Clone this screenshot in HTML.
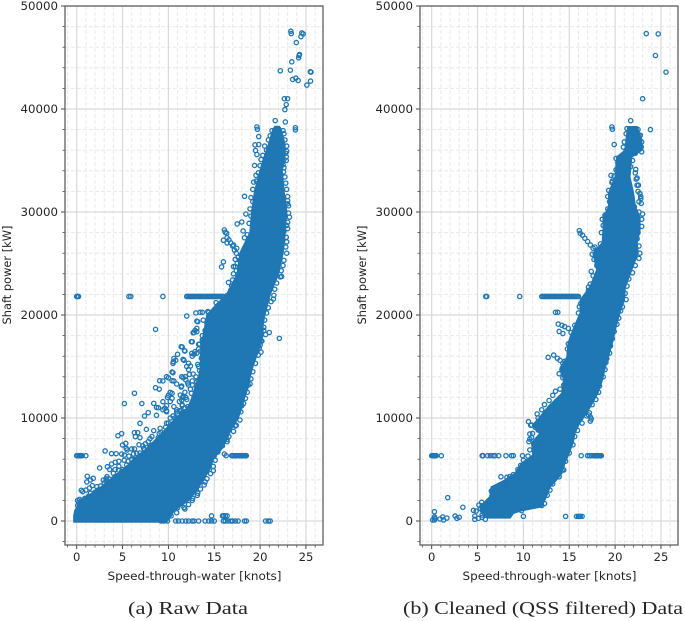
<!DOCTYPE html>
<html><head><meta charset="utf-8">
<style>
html,body{margin:0;padding:0;background:#fff;width:685px;height:621px;overflow:hidden}
svg{display:block}
text{font-family:"DejaVu Sans","Liberation Sans",sans-serif;fill:#262626}
</style></head>
<body>
<svg id="chart" width="685" height="621" viewBox="0 0 685 621" xmlns="http://www.w3.org/2000/svg"></svg>
<script>
// ---------- Chart data (knots, kW) ----------
const xMajorTicks = [0,5,10,15,20,25];
const yMajorTicks = [0,10000,20000,30000,40000,50000];
const xLabelText = "Speed-through-water [knots]";
const yLabelText = "Shaft power [kW]";
const rawCaption = "(a) Raw Data";
const cleanCaption = "(b) Cleaned (QSS filtered) Data";

// Dense cloud outline: at each power level, left and right speed
const rawCloudPower = [-100,500,1000,2000,3000,4000,5000,6000,7000,8000,9000,10000,11000,12000,13000,14000,15000,16000,17000,18000,19000,20000,21000,22000,24000,26000,28000,30000,32000,34000,35500,36500,38000,38300];
const rawCloudLeft = [-0.3,-0.3,-0.2,0.4,2.2,3.7,5.1,6.2,7.6,8.7,9.8,10.8,12.1,12.6,12.9,13.3,13.5,13.5,13.6,13.8,14,14.2,15.2,16.4,17.5,17.8,18.9,19.1,19.4,20,20.5,20.9,21.4,21.6];
const rawCloudRight = [9.8,10.3,10.6,12.2,13.1,13.8,14.5,14.9,15.8,16.4,16.9,17.6,18,18.3,18.7,18.9,19.2,19.6,20,20.3,20.3,20.5,20.8,21.1,22,22.5,22.7,22.9,22.6,22.4,22.7,22.7,22.3,22.1];

const cleanCloudPower = [300,750,1000,1390,2360,3300,3980,4630,5600,6400,7550,8500,9300,10100,11100,12400,13700,14850,15900,17300,18540,20200,21460,22700,24370,26000,27000,28250,29500,30500,31840,33400,35340,36000,37000,38270];
const cleanCloudLeft = [6.15,5.45,5.3,5.3,6.35,6.5,8,9.1,9.8,11.05,10.9,11.8,11,11.8,12.7,14.2,14.4,14,14.75,14.9,15.4,16.2,16.2,17.25,18,17.6,18.6,18.7,18.7,19.3,19.3,20,20.2,21.1,21.2,21.4];
const cleanCloudRight = [8.55,8.9,9.8,12,12.5,12.9,13.6,14.2,14.5,14.9,15.4,15.6,16,16.6,17.3,18.1,18.6,18.9,19.25,19.7,20,20.5,21,21.1,21.8,22.5,22.4,22.7,22.7,22.2,22,21.6,21.8,22.9,22.9,22.4];

// Horizontal sensor-stuck rows
const rowHighPower = 21800;
const rawRowHigh = [0,0.1,0.2,5.7,5.9,9.4,12,12.15,12.3,12.45,12.6,12.75,12.9,13.05,13.2,13.35,13.5,13.65,13.8,13.95,14.1,14.25,14.4,14.55,14.7,14.85,15,15.15,15.3,15.45,15.6,15.75,15.9,16];
const cleanRowHigh = [5.9,6,9.6,12,12.15,12.3,12.45,12.6,12.75,12.9,13.05,13.2,13.35,13.5,13.65,13.8,13.95,14.1,14.25,14.4,14.55,14.7,14.85,15,15.15,15.3,15.45,15.6,15.75,15.9,16];
const rowMidPower = 6340;
const rawRowMid = [0,0.15,0.3,0.4,0.5,0.6,1,15,16.3,16.9,17,17.15,17.3,17.45,17.6,17.75,17.9,18,18.1,18.2,18.3,18.4,18.5];
const cleanRowMid = [0,0.1,0.2,0.3,0.4,0.5,1.05,5.5,5.6,6.1,6.4,6.7,6.9,7.3,8.1,8.7,8.9,9.9,16.3,17,17.2,17.4,17.6,17.75,17.9,18,18.1,18.2,18.3,18.4,18.5];
const rawRowZero = [9.2,9.5,9.9,10.8,11.1,11.5,11.9,12.2,12.6,12.8,13.3,14,14.4,14.7,15,16,16.2,16.5,16.8,17,17.3,17.6,18.3,18.5,20.6,20.9,21.1];
const rawRowLow = [14.7,15.9,16,16.2,16.4];
const cleanRowLow = [10,14.6,15.8,16,16.1,16.2,16.4];

// Individually read outliers [knots, kW]
const rawOutliers = [
[23.35,47550],[23.4,47320],[24.55,47390],[24.7,47290],[24.45,47030],[23.95,46450],[24.3,45290],[24.25,45190],[24.2,44970],[23.45,44580],[23.3,43770],[22.2,43710],[25.55,43580],[25.48,43620],[23.55,42870],[23.9,43000],[24.15,42770],[25.5,42710],[25.1,42320],
[22.65,41000],[23,41000],[22.85,40420],[22.7,39940],[21.65,38870],[22.75,38740],[23.85,38190],[23.85,37970],[19.65,38260],[19.7,38030],[19.85,37320],[19.45,36520],[19.85,36550],[19.5,35970],[19.65,35580],[19.4,34520],[19.55,33550],[18.3,31520],[18.45,29800],[18,29030],[17.5,28840],[18.15,28160],
[16.1,28260],[16.2,28030],[16.35,27940],[16,27260],[16.4,27000],[16.4,27500],[16.6,27300],[16.8,27000],[17,26700],[17.1,26800],[17.2,26300],[17.45,26480],[17.4,26000],[17.6,25600],[17.8,25300],[18,25000],[16,25160],[15.8,24670],[17.1,24700],[17.1,24000],[16.55,23160],[16.7,22170],[15.2,21200],[21.45,21550],[22.35,23740],[23,28390],[22.85,27550],[22.5,27680],[23,30800],[23,31100],[22.55,33900],[22.85,35350],[22.85,35000],[22.8,35700],
[8.6,18600],[22.1,17730],[21,18300],[20.4,18500],[20.1,16400],[20.2,17470],[20,17090],[6.3,12400],[5.2,11400],[7.1,11400],[8.6,12940],[9.05,13620],[9.8,14010],[10.4,14460],[10.4,13620],[10.2,12490],[8.4,11420],[8.7,11030],[9.4,11580],[9.6,10940],[9.8,10610],[7.4,10190],[7.8,10520],[8.7,10260],[6.9,9480],[6.3,8580],[6.65,8580],[4.5,8280],[4.9,8480],[6.4,8190],[6.9,8090],[7.6,8900],[8.4,8770],[9.1,9000],[9.45,8350],[5,7380],[5.35,7540],[5.4,7050],[3.1,6800],[3.8,6540],[4.3,6540],[2.5,5150],[4.9,6500],[3.35,5270],[3.8,5530],[1.15,4340],[1.8,4140],[1.5,3980],[1.1,3790],[1.7,3430],[0.5,2980],[0.65,2850],[2.2,3330],[2.9,3980],[3.3,4300],[4,4630],[4.55,4950],[5.45,5440],[6,5920],[6.55,6570],[7.3,7050],[8,7220],[8.7,7540],[9.3,8030],
[10.55,15470],[11.6,15690],[12.2,15310],[12.4,15050],[12.5,17410],[13.4,17180],[13.2,19350],[13.8,17640],[11.4,16920],[11.75,16540],[11,16180],[10.6,15790],[12.7,14270],[12.3,14230],[11.45,14010],[11.85,14010],[11.45,13100],[10.9,13300],[12.55,16280],[12.9,16440],[13.1,18380],[12.7,18280],[13.45,20260],[13.7,20260],[14.4,20260],[14.9,20100],[11.3,12230],[11.45,11750],[10.6,11100],[11.6,12100],[10.9,10800],[10.2,11600],[9.9,12000],[10,12200],
[14.9,4890],[14,3790],[13.1,3820],[12.9,3010],[13.15,2490],[12.65,2200],[11.8,1165],[11,1290],[10.2,1070],[10,420],[16.1,6500],[15.35,7600],[15.9,8030],[16.4,7700],[17.3,9220],[18,11200],[18.7,13200],[18.35,12880],[17.1,9640],
[1,3000],[1.4,3200],[2,2800],[2.6,3400],[3,3700],[3.5,4100],[4.2,4300],[4.6,5300],[5,5000],[5.6,5800],[6.2,6500],[6.9,6600],[7.5,7500],[8,8000],[9,8500],[10,9500],[10.5,10200],[11.2,10700],[11.5,11200],[3.6,5000],[4.2,5700],[5.2,6400],[6,7000],[6.8,7400]
];
// Points forming the rough rim of the raw cloud [knots, kW]
const rawRimPoints = [
[17.3,25400],[17.5,25000],[17.3,24700],[17.4,24300],[17,23400],[17.2,23000],[16.9,22800],[16.8,22400],[17,22000],[16.4,21900],[18.6,27800],[18.3,27500],[18.8,28900],[19,29600],[18.9,30300],[19.2,31000],[19,31400],[19.2,32200],[19.3,32900],[19.6,33000],[19.8,33800],[20,34500],[20.1,35100],[20.3,35500],[20.7,36000],[20.5,36400],[20.9,37000],[21.1,37400],[21.3,37900],
[22.9,36400],[22.7,37000],[22.6,37600],[22.5,37900],[22.9,35900],[22.6,35100],[22.5,34600],[22.6,34300],[22.7,33400],[22.8,32800],[22.9,32200],[23,31500],[23.1,30600],[23.1,29900],[23.2,29500],[23,29000],[22.9,28700],[22.6,28100],[22.9,27100],[22.8,26600],[22.9,26000],[22.6,25300],[22.5,24800],[22.3,24300],[22.2,23700],[21.8,23100],[21.6,22500],[21.5,21900],[21.2,21300],[20.9,20700],[20.7,20200],
[20.5,19500],[20.4,18800],[20.6,18100],[20.1,17500],[19.9,16800],[19.8,16100],[19.5,15300],[19.2,14500],[19,13800],[18.9,13300],[18.6,12500],[18.4,11900],[18.2,11400],[17.9,10600],[17.8,9800],[17.4,9300],[17.1,8700],[16.6,8200],[16.4,7900],[15.9,7300],[15.4,6700],[15.1,5900],[14.9,5300],[14.6,4600],[14.2,4100],[13.9,3500],[13.5,3100],[13.2,2700],[12.6,2000],[12.2,1600],[11.7,1300],[10.9,800],[10.3,500],
[12,19900],[13,20200],[13.8,19500],[14.2,19200],[14,18500],[13.7,18000],[14.2,17500],[13.9,16800],[13.5,16500],[13.6,15800],[13.2,15200],[13.4,14600],[13,14000],[12.6,13600],[12.2,13200],[12.4,12800],[11.8,12500],[11.9,12000],[11.2,11600],
[0.1,1500],[0.1,2000],[0.3,2100],[0.2,1800],[0.6,2000],[0.9,2200],[1.3,2400],[1.5,2700],[1.9,2500],[2.3,3000],[2.6,3000],[3.1,3400],[3.3,3600],[3.6,3800],[3.2,4100],[4,4100],[4.4,4400],[4.9,4800],[5.3,5000],[5.6,5200],[6,5400],[6.4,6000],[6.8,6200],[7.1,6400],[7.4,6900],[7.9,7000],[8.3,7400],[8.7,7100],[9,7800],[9.5,8500],[10,8900],[10.4,9400],[10.7,10000],[11,10400],[11.4,10700],[11.8,11000],
[4.2,5000],[4.6,5800],[5.2,5900],[5.7,6300],[6,6000],[6.3,7000],[7.2,7300],[7.8,7700],[8.2,8200],[8.9,8100],[9.2,8600],[9.7,9100],[9.8,9500],[10.2,10000],[5.5,6900],
[14.3,20330],[13.1,19400],[12.9,18500],[12.8,18300],[13.1,18700],[12.6,17400],[13.3,17150],[13.7,17600],[11.5,16900],[11.8,16500],[10.8,15600],[10.5,15300],[11.7,15600],[12.6,16000],[12.8,16200],[13.1,16300],[13.3,16700],[12,15000],[12.2,14700],[10.5,14400],[10,13900],[9.4,13600],[10.6,13600],[9,12800],[11.6,13900],[11.9,13700],[12.1,13400],[12.6,13200],[13.1,13500],[13.3,15000],[10.4,12400],[10.4,11900],[11.4,13000],[11.6,12000],[12,11800],[12.5,12400],[12.8,12000],[11.5,11300],[12.1,11100],[9.8,11200],[8.9,11000],[9.4,10800],[9.8,10700],[10.9,10600],[11.5,10500],[12.5,10400]
];

const cleanOutliers = [
[23.4,47320],[24.7,47290],[24.4,45190],[25.55,43580],[23,41000],[21.7,38870],[23.85,38000],[19.65,38260],[19.7,38030],[19.9,36550],[19.55,33550],[19.65,32870],[23,29800],
[16.1,28190],[16.2,27930],[16.45,27740],[16.7,27450],[17,27130],[17.3,26800],[17.6,26480],[18,26260],[17.4,24230],[17.1,22710],[16.25,21100],
[22.7,31800],[22.85,30840],[22.4,33300],[22.55,32600],[22.25,34130],[22.75,37450],[22.85,36320],[22.9,35840],[22.8,31300],
[1.75,2270],[3.4,1330],[0.3,900],[4.55,1035],[4.85,970],[5.45,1810],[5.15,1550],[0.3,400],[0.35,260],[0.1,100],[0.3,100],[0.9,190],[1.2,390],[1.3,100],[1.65,290],[2.55,490],[2.75,260],[3,360],[4.7,480],[4.7,160],[5.1,260],[5.5,580],[5.5,350],[5.85,160],
[14.2,5270],[14.4,4950],[7.55,4300],[8.2,4240],[8,3750],[7.35,3330],[6.7,3170],[6.65,2520],
[12.7,15890],[13.3,16110],[13.7,15800],[14,15600],[14.3,15300],[14.6,15100],[14.9,14900],[13.5,20260],[13.75,20260],[19.1,15760],
[16.7,10940],[17.3,10100],[17.2,10500],[17.4,9900],[17.3,9700],[16.95,11100],[17.1,10300],
[10.55,9650],[10.9,9320],[11.3,9090],[11.6,8830],[12.2,8670],[10.7,8450],[10.7,7950],[10.6,7700],[11.2,7600],[11.8,7400],
[13.8,19120],[14.2,19000],[14.5,18870],[14.9,18700],[13.9,18400],[14.3,18200]
];
// Points forming the rough rim of the cleaned cloud [knots, kW]
const cleanRimPoints = [
[21.3,38100],[21.2,37600],[21,36800],[20.9,36300],[21.2,36000],[20.1,35200],[20.3,34800],[20.1,34100],[19.9,33500],[19.7,33000],[20,32400],[19.3,32100],[19.2,31500],[19.4,31000],[19.2,30300],[18.9,29700],[18.6,29300],[18.7,28700],[18.5,28000],[18.9,27500],[18.4,26900],[17.8,26600],[17.5,25900],[17.7,25400],[18,24800],[17.6,23800],[17.3,23000],[17.1,22400],[16.9,21800],[16.5,21300],[16.1,20800],[16,20200],[16.3,19700],[15.6,19000],
[22.5,38000],[22.7,37400],[22.9,36800],[22.8,36200],[22.2,35700],[21.9,35000],[21.7,34400],[22.2,33800],[22.3,33200],[22.4,32600],[22.5,32000],[22.8,31500],[22.6,31000],[22.1,30500],[22.6,30000],[22.9,29300],[22.9,28600],[22.5,28000],[22.4,27400],[22.6,26700],[22.7,26000],[22.6,25500],[22.2,24800],[21.9,24100],[21.5,23500],[21.3,22800],[21.1,22100],[21.2,21500],[20.8,20800],[20.6,20400],[20.4,19700],[20.2,19100],[19.9,18400],[19.7,17700],[19.5,17000],[19.4,16300],[19,15400],[18.9,14700],[18.7,14000],[18.3,13100],[18.2,12500],[17.9,11800],[17.5,11300],[16.9,10200],[16.4,9500],[15.9,8800],[15.6,8200],[15.4,7400],[15,6600],[14.6,5800],[14.3,5000],[13.9,4300],[13.2,3600],[12.9,3000],[12.6,2500],[12.3,1700],[12,1500],[11.3,1550],[9.8,1000],
[15.2,18300],[15.3,17700],[14.9,17200],[14.8,16700],[15,16300],[14.5,15500],[14.2,14700],[13.9,14300],[14.3,13900],[14.4,13200],[14,12800],[13.2,12200],[13.5,12600],[12.8,11700],[12.3,11300],[12,10800],[11.5,10400],[11.6,10000],[10.8,9300],[11,8500],[10.9,8100],[11.2,7300],[10.7,6900],[10.5,6300],[10,5900],[9.7,5400],[9.4,5000],[8.9,4500],[8.5,4300],[8.2,3900],[7.9,3500],[7.3,3000],[6.8,3000],[6.5,2900],[6.6,2200],[6.3,2000],[6,1700],[5.5,1500],[5.3,1200],[5.7,900],[6,600]
];

// ---------- Rendering ----------
const NS = "http://www.w3.org/2000/svg";
const svg = document.getElementById("chart");
const blue = "#1f77b4";
const xPerKnot = 9.17, yZeroPx = 521, yPerKw = 0.0103;
const spanW = 258, topPx = 6, bottomPx = 545, leftOffset = 11.7;

function make(parent, tag, attrs) {
  const el = document.createElementNS(NS, tag);
  for (const k in attrs) el.setAttribute(k, attrs[k]);
  parent.appendChild(el);
  return el;
}

function drawPanel(panelName, originX, captionText, captionX, captionW, cloudP, cloudL, cloudR, rows, outliers, rim) {
  const xScale = v => originX + leftOffset + v * xPerKnot;
  const yScale = v => yZeroPx - v * yPerKw;
  const left = originX, right = originX + spanW;

  const g = make(svg, "g", {});
  
  

  // minor grid
  for (let v = -1; v <= 26; v++) {
    if (v % 5 === 0) continue;
    const ln = make(g, "line", {x1:xScale(v),x2:xScale(v),y1:topPx,y2:bottomPx,stroke:"#ececec","stroke-width":1.1,"stroke-dasharray":"4 2"});
    
    
    const tk = make(g, "line", {x1:xScale(v),x2:xScale(v),y1:bottomPx,y2:bottomPx+2.5,stroke:"#333","stroke-width":0.7});
    
    
  }
  for (let v = -2000; v <= 48000; v += 2000) {
    if (v % 10000 === 0) continue;
    const ln = make(g, "line", {x1:left,x2:right,y1:yScale(v),y2:yScale(v),stroke:"#ececec","stroke-width":1.1,"stroke-dasharray":"4 2"});
    
    
    const tk = make(g, "line", {x1:left-2.5,x2:left,y1:yScale(v),y2:yScale(v),stroke:"#333","stroke-width":0.7});
    
    
  }
  // major grid, ticks and labels
  xMajorTicks.forEach(v => {
    const ln = make(g, "line", {x1:xScale(v),x2:xScale(v),y1:topPx,y2:bottomPx,stroke:"#d9d9d9","stroke-width":1.2});
    
    
    const tk = make(g, "line", {x1:xScale(v),x2:xScale(v),y1:bottomPx,y2:bottomPx+4,stroke:"#333","stroke-width":0.9});
    
    
    const t = make(g, "text", {x:xScale(v),y:bottomPx+16,"text-anchor":"middle","font-size":11.6});
    
    
    t.textContent = v;
  });
  yMajorTicks.forEach(v => {
    const ln = make(g, "line", {x1:left,x2:right,y1:yScale(v),y2:yScale(v),stroke:"#d9d9d9","stroke-width":1.2});
    
    
    const tk = make(g, "line", {x1:left-4,x2:left,y1:yScale(v),y2:yScale(v),stroke:"#333","stroke-width":0.9});
    
    
    const t = make(g, "text", {x:left-7,y:yScale(v)+4.2,"text-anchor":"end","font-size":11.8});
    
    
    t.textContent = v;
  });

  // dense cloud
  const pts = [];
  cloudP.forEach((p,i) => pts.push(xScale(cloudL[i]).toFixed(1)+","+yScale(p).toFixed(1)));
  for (let i = cloudP.length-1; i >= 0; i--) pts.push(xScale(cloudR[i]).toFixed(1)+","+yScale(cloudP[i]).toFixed(1));
  const cloud = make(g, "polygon", {points:pts.join(" "),fill:blue,stroke:blue,"stroke-width":1.5,"stroke-linejoin":"round"});
  
  

  // individual points
  const marks = [];
  rows.forEach(r => r.speeds.forEach(s => marks.push([s, r.power])));
  outliers.forEach(o => marks.push(o));
  rim.forEach(o => marks.push(o));
  marks.forEach(m => {
    const c = make(g, "circle", {cx:xScale(m[0]),cy:yScale(m[1]),r:2.15,fill:"none",stroke:blue,"stroke-width":1.3});
    
    
  });

  // spines
  const frame = make(g, "rect", {x:left,y:topPx,width:spanW,height:bottomPx-topPx,fill:"none",stroke:"#5f5f5f","stroke-width":1.3});
  
  

  // axis titles
  const xl = make(g, "text", {x:left+129.5,y:580,"text-anchor":"middle","font-size":11.4,textLength:174,lengthAdjust:"spacingAndGlyphs"});
  
  
  xl.textContent = xLabelText;
  const yc = 275;
  const yl = make(g, "text", {x:left-54,y:yc,"text-anchor":"middle","font-size":11.4,transform:"rotate(-90 "+(left-54)+" "+yc+")"});
  
  
  yl.textContent = yLabelText;

  // caption
  const cap = make(g, "text", {x:captionX,y:614,"font-size":18,textLength:captionW,lengthAdjust:"spacingAndGlyphs",style:'font-family:"Liberation Serif",serif'});
  
  
  cap.textContent = captionText;
}

drawPanel("raw-data-panel", 65, rawCaption, 128, 120, rawCloudPower, rawCloudLeft, rawCloudRight,
  [{power:rowHighPower,speeds:rawRowHigh},{power:rowMidPower,speeds:rawRowMid},{power:0,speeds:rawRowZero},{power:500,speeds:rawRowLow}], rawOutliers, rawRimPoints);
drawPanel("cleaned-data-panel", 420, cleanCaption, 403, 280, cleanCloudPower, cleanCloudLeft, cleanCloudRight,
  [{power:rowHighPower,speeds:cleanRowHigh},{power:rowMidPower,speeds:cleanRowMid},{power:450,speeds:cleanRowLow}], cleanOutliers, cleanRimPoints);
</script>
</body></html>
